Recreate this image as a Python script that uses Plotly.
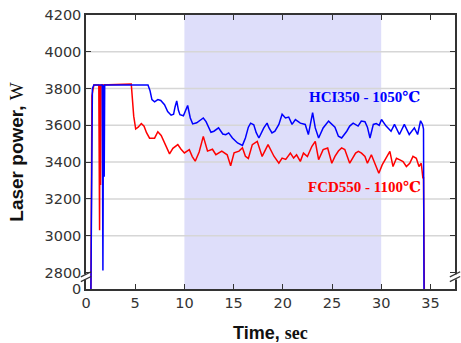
import plotly.graph_objects as go

# ---- data (time in s, laser power in W) ----
HCI_T = [0.5, 0.57, 0.65, 0.8, 1.65, 1.72, 1.78, 1.85, 1.9, 6.3, 6.5, 6.7, 6.97, 7.3, 7.6, 7.98,
         8.3, 8.65, 8.9, 9.05, 9.22, 9.4, 9.55, 9.9, 10.1, 10.33, 10.6, 10.84, 11.25, 11.6, 11.92,
         12.2, 12.5, 12.7, 13.0, 13.47, 13.9, 14.2, 14.5, 14.88, 15.4, 15.9, 16.2, 16.5, 16.73,
         17.05, 17.3, 17.57, 18.07, 18.4, 18.6, 18.9, 19.2, 19.6, 19.93, 20.27, 20.6, 20.94,
         21.28, 21.78, 22.28, 22.6, 23.03, 23.3, 23.64, 24.1, 24.65, 25.0, 25.3, 25.65, 25.98,
         26.5, 26.8, 27.15, 27.65, 27.98, 28.35, 28.6, 28.86, 29.2, 29.5, 29.8, 30.03, 30.5,
         31.0, 31.35, 31.85, 32.35, 32.85, 33.37, 33.7, 34.0, 34.2, 34.3, 34.35]
HCI_P = [0, 3720, 3800, 3820, 3820, 2810, 3820, 3320, 3820, 3820, 3790, 3740, 3728, 3740, 3735, 3712,
         3675, 3655, 3660, 3700, 3733, 3680, 3658, 3652, 3680, 3708, 3640, 3608, 3614, 3630, 3640,
         3620, 3580, 3562, 3568, 3586, 3553, 3549, 3559, 3531, 3504, 3491, 3531, 3590, 3612,
         3603, 3560, 3531, 3586, 3612, 3586, 3559, 3568, 3605, 3660, 3640, 3645, 3605,
         3631, 3612, 3605, 3550, 3669, 3586, 3531, 3586, 3623, 3605, 3590, 3541, 3531,
         3568, 3596, 3612, 3596, 3623, 3620, 3590, 3531, 3605, 3610, 3600, 3632, 3596,
         3568, 3605, 3550, 3605, 3550, 3586, 3550, 3625, 3605, 3580, 0]

FCD_T = [0.5, 0.51, 0.53, 0.6, 0.8, 1.3, 1.38, 1.43, 1.48, 1.53, 4.6, 4.85, 5.05, 5.3, 5.62, 5.9,
         6.15, 6.46, 6.97, 7.3, 7.64, 8.08, 8.49, 8.83, 9.33, 9.66, 10.0, 10.5, 10.8, 11.1, 11.5,
         11.92, 12.35, 12.85, 13.2, 13.8, 14.35, 14.7, 15.05, 15.55, 15.9, 16.2, 16.5, 16.9,
         17.4, 17.9, 18.5, 19.1, 19.6, 19.93, 20.3, 20.77, 21.1, 21.4, 21.78, 22.1, 22.5, 22.96,
         23.3, 23.64, 24.1, 24.56, 24.98, 25.3, 25.65, 25.98, 26.3, 26.8, 27.4, 27.68, 28.0,
         28.35, 28.6, 29.0, 29.35, 29.76, 30.1, 30.37, 30.88, 31.2, 31.55, 31.9, 32.22, 32.56,
         32.9, 33.23, 33.57, 33.84, 34.07, 34.24, 34.3, 34.38]
FCD_P = [0, 3160, 3230, 3760, 3820, 3820, 3030, 3820, 3275, 3820, 3825, 3650, 3580, 3590, 3610, 3595,
         3560, 3530, 3530, 3565, 3545, 3495, 3445, 3475, 3495, 3470, 3450, 3468, 3430, 3405, 3455,
         3540, 3460, 3470, 3440, 3460, 3440, 3380, 3450, 3460, 3478, 3432, 3420, 3495,
         3513, 3431, 3495, 3432, 3394, 3422, 3415, 3449, 3422, 3440, 3404, 3449, 3430, 3486,
         3513, 3413, 3468, 3477, 3394, 3431, 3460, 3477, 3468, 3394, 3449, 3458, 3449,
         3431, 3394, 3440, 3394, 3339, 3385, 3412, 3458, 3376, 3421, 3412, 3403, 3376,
         3394, 3431, 3421, 3376, 3394, 3312, 3320, 0]

X_TICKS = [0, 5, 10, 15, 20, 25, 30, 35]
Y_TICKS = [0, 2800, 3000, 3200, 3400, 3600, 3800, 4000, 4200]
GRID_Y = [3000, 3200, 3400, 3600, 3800, 4000]
SHADE_X = [10, 30]
LABELS = ["HCI350 - 1050℃", "FCD550 - 1100℃"]

# ---- broken y axis: values below 2800 are squeezed into a short band ----
BREAK = 2800
AXIS_LOW = 2710


def squash(v):
    return v if v >= BREAK else AXIS_LOW + v * (BREAK - AXIS_LOW) / BREAK


fig = go.Figure()
fig.add_trace(go.Scatter(x=FCD_T, y=[squash(v) for v in FCD_P], mode="lines",
                         line=dict(color="#ff0000", width=1.5), showlegend=False))
fig.add_trace(go.Scatter(x=HCI_T, y=[squash(v) for v in HCI_P], mode="lines",
                         line=dict(color="#0000ff", width=1.5), showlegend=False))

shapes = [dict(type="rect", xref="x", yref="paper", x0=SHADE_X[0], x1=SHADE_X[1], y0=0, y1=1,
               fillcolor="#dedefa", line=dict(width=0), layer="below")]
for g in GRID_Y:
    shapes.append(dict(type="line", xref="paper", yref="y", x0=0, x1=1, y0=g, y1=g,
                       line=dict(color="#d6d6d6", width=1.5), layer="below"))
# axis break marks
dx = 0.014
for xp in (0, 1):
    shapes.append(dict(type="rect", xref="paper", yref="y", x0=xp - 0.006, x1=xp + 0.006,
                       y0=2762, y1=2790, fillcolor="white", line=dict(width=0), layer="above"))
    for c in (2790, 2764):
        shapes.append(dict(type="line", xref="paper", yref="y", x0=xp - dx, x1=xp + dx,
                           y0=c - 14, y1=c + 14, line=dict(color="#333333", width=1.3),
                           layer="above"))

SERIF = "Liberation Serif, Times New Roman, DejaVu Serif, serif"
fig.update_layout(
    width=461, height=343,
    margin=dict(l=86, r=4, t=15, b=54),
    paper_bgcolor="white", plot_bgcolor="white",
    shapes=shapes,
    font=dict(family="Liberation Sans, Arial, sans-serif", color="#333333"),
    annotations=[
        dict(x=28.3, y=3754, xref="x", yref="y", text="<b>" + LABELS[0] + "</b>", showarrow=False,
             font=dict(family=SERIF, size=15, color="#0000ff")),
        dict(x=28.3, y=3262, xref="x", yref="y", text="<b>" + LABELS[1] + "</b>", showarrow=False,
             font=dict(family=SERIF, size=15, color="#ff0000")),
        dict(x=0.5, y=-0.16, xref="paper", yref="paper", xanchor="center", yanchor="middle",
             text="<b>Time, <span style=\"font-family:" + SERIF + "\">sec</span></b>",
             showarrow=False, font=dict(family="Liberation Sans, Arial, sans-serif",
                                        size=18, color="#111111")),
    ],
)
TICKFONT = dict(family="DejaVu Sans, sans-serif", size=14.5, color="#333333")
fig.update_xaxes(
    range=[0, 37.5], tickvals=X_TICKS, ticks="inside", ticklen=5, tickwidth=1.3,
    tickcolor="#333333", showline=True, linecolor="#333333", linewidth=1.5, mirror="ticks",
    showgrid=False, zeroline=False, tickfont=TICKFONT,
)
fig.update_yaxes(
    range=[AXIS_LOW, 4200], tickvals=[squash(v) for v in Y_TICKS],
    ticktext=[str(v) for v in Y_TICKS], ticks="inside", ticklen=5, tickwidth=1.3,
    tickcolor="#333333", showline=True, linecolor="#333333", linewidth=1.5, mirror="ticks",
    showgrid=False, zeroline=False, tickfont=TICKFONT,
    title=dict(text="<b>Laser power, </b><span style=\"font-family:" + SERIF + "\">W</span>",
               font=dict(size=19, color="#111111"), standoff=16),
)

fig.write_html("out.html")
